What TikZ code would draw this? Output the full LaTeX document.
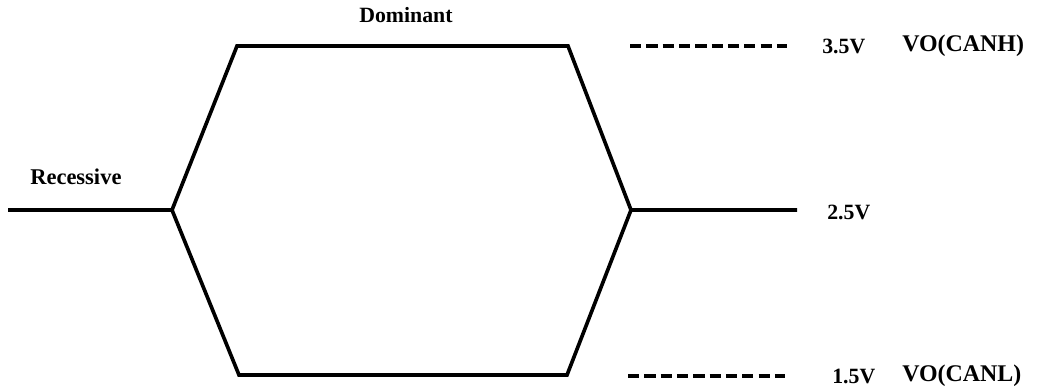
\documentclass[tikz,border=0pt]{standalone}
\usepackage{fontspec}
\setmainfont{Liberation Serif}
\usetikzlibrary{positioning}

\begin{document}
\begin{tikzpicture}[x=0.025cm, y=-0.025cm, line join=miter,
   wave_style/.style={draw=black, line width=2.6pt},
   level_style/.style={draw=black, line width=3pt, dash pattern=on 8pt off 3.6pt},
   text_style/.style={font=\fontsize{15.5}{18}\selectfont\bfseries, inner sep=0pt, anchor=west},
   big_text/.style={text_style, font=\fontsize{17}{20}\selectfont\bfseries}]
	\useasboundingbox (0,0) rectangle (1056,391);

	% waveform corners
	\coordinate (r1) at (8,210);
	\coordinate (r2) at (172,210);
	\coordinate (h1) at (237,46);
	\coordinate (h2) at (568,46);
	\coordinate (r3) at (631,210);
	\coordinate (r4) at (797,210);
	\coordinate (l1) at (239,375);
	\coordinate (l2) at (567,375);

	\draw [wave_style] (r1) -- (r2) -- (h1) -- (h2) -- (r3) -- (r4);
	\draw [wave_style] (r2) -- (l1) -- (l2) -- (r3);

	% dashed levels
	\coordinate (a1) at (630,46);
	\coordinate (a2) at (787,46);
	\coordinate (b1) at (628,376);
	\coordinate (b2) at (785,376);
	\draw [level_style] (a1) -- (a2);
	\draw [level_style] (b1) -- (b2);

	\node [text_style, font=\fontsize{16}{19}\selectfont\bfseries] (rec) at (30,177) {Recessive};
	\node [text_style] (dom) at (359,15) {Dominant};
	\node [text_style] (v35) at (822,46) {3.5V};
	\node [text_style] (v25) at (827,212) {2.5V};
	\node [text_style] (v15) at (832,376) {1.5V};
	\node [big_text] (canh) at (902,46) {VO(CANH)};
	\node [big_text] (canl) at (902,376) {VO(CANL)};

\end{tikzpicture}
\end{document}
